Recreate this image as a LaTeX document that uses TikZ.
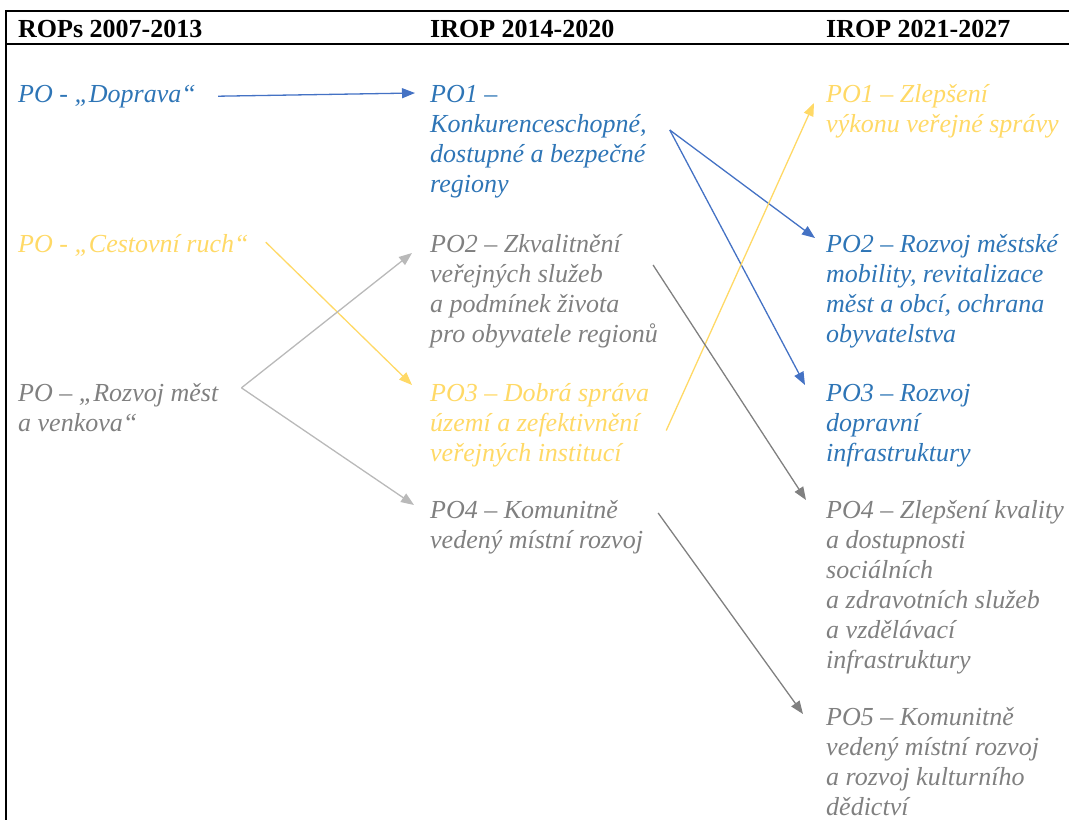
\documentclass[tikz,border=0pt]{standalone}
\usepackage{fontspec}
\setmainfont{Liberation Serif}
\usetikzlibrary{arrows.meta,calc}
\definecolor{iropBlue}{RGB}{46,117,182}
\definecolor{iropArrowBlue}{RGB}{68,114,196}
\definecolor{iropYellow}{RGB}{255,217,102}
\definecolor{iropGray}{RGB}{128,128,128}
\definecolor{iropLightGray}{RGB}{185,185,185}

\begin{document}
\begin{tikzpicture}[x=1pt,y=-1pt,>={Triangle[length=13pt,width=10pt]},
  head/.style={anchor=north west,inner sep=0pt,font=\bfseries\fontsize{26}{30}\selectfont},
  prio/.style={anchor=north west,inner sep=0pt,align=left,font=\itshape\fontsize{26}{30}\selectfont},
  link/.style={->,line width=1.3pt}]
\useasboundingbox (0,0) rectangle (1069,820);
% table frame
\draw[line width=2pt] (1069,11) -- (6,11) -- (6,820);
\draw[line width=2pt] (6,44) -- (1069,44);
\node[head] (h1) at (18,16) {\strut ROPs 2007-2013};
\node[head] (h2) at (430,16) {\strut IROP 2014-2020};
\node[head] (h3) at (826,16) {\strut IROP 2021-2027};
% ROPs 2007-2013
\node[prio,text=iropBlue] (ropDoprava) at (18,81) {\strut PO - „Doprava“};
\node[prio,text=iropYellow] (ropCestovni) at (18,231) {\strut PO - „Cestovní ruch“};
\node[prio,text=iropGray] (ropRozvoj) at (18,380) {\strut PO – „Rozvoj měst\\a venkova“};
% IROP 2014-2020
\node[prio,text=iropBlue] (irop1) at (430,81) {\strut PO1 –\\Konkurenceschopné,\\dostupné a bezpečné\\regiony};
\node[prio,text=iropGray] (irop2) at (430,231) {\strut PO2 – Zkvalitnění\\veřejných služeb\\a podmínek života\\pro obyvatele regionů};
\node[prio,text=iropYellow] (irop3) at (430,380) {\strut PO3 – Dobrá správa\\území a zefektivnění\\veřejných institucí};
\node[prio,text=iropGray] (irop4) at (430,497) {\strut PO4 – Komunitně\\vedený místní rozvoj};
% IROP 2021-2027
\node[prio,text=iropYellow] (nw1) at (826,81) {\strut PO1 – Zlepšení\\výkonu veřejné správy};
\node[prio,text=iropBlue] (nw2) at (826,231) {\strut PO2 – Rozvoj městské\\mobility, revitalizace\\měst a obcí, ochrana\\obyvatelstva};
\node[prio,text=iropBlue] (nw3) at (826,380) {\strut PO3 – Rozvoj\\dopravní\\infrastruktury};
\node[prio,text=iropGray] (nw4) at (826,497) {\strut PO4 – Zlepšení kvality\\a dostupnosti\\sociálních\\a zdravotních služeb\\a vzdělávací\\infrastruktury};
\node[prio,text=iropGray] (nw5) at (826,704) {\strut PO5 – Komunitně\\vedený místní rozvoj\\a rozvoj kulturního\\dědictví};
% forks
\coordinate (forkBlue) at ($(irop1.north east)+(23,49)$);
\coordinate (forkGray) at ($(ropRozvoj.east)+(23,-18)$);
% arrows
\draw[link,iropArrowBlue] ($(ropDoprava.east)+(22,0)$) -- ($(irop1.north west)+(-15,12)$);
\draw[link,iropArrowBlue] (forkBlue) -- ($(nw2.north west)+(-11,7)$);
\draw[link,iropArrowBlue] (forkBlue) -- ($(nw3.north west)+(-21,5)$);
\draw[link,iropYellow] ($(ropCestovni.east)+(17,-4)$) -- ($(irop3.north west)+(-18,5)$);
\draw[link,iropYellow] ($(irop3.east)+(17,7)$) -- ($(nw1.north west)+(-12,22)$);
\draw[link,iropLightGray] (forkGray) -- ($(irop2.north west)+(-18,22)$);
\draw[link,iropLightGray] (forkGray) -- ($(irop4.north west)+(-16,8)$);
\draw[link,iropGray] ($(irop2.north east)+(-5,34)$) -- ($(nw4.north west)+(-20,3)$);
\draw[link,iropGray] ($(irop4.north east)+(15,16)$) -- ($(nw5.north west)+(-23,10)$);
\end{tikzpicture}
\end{document}
